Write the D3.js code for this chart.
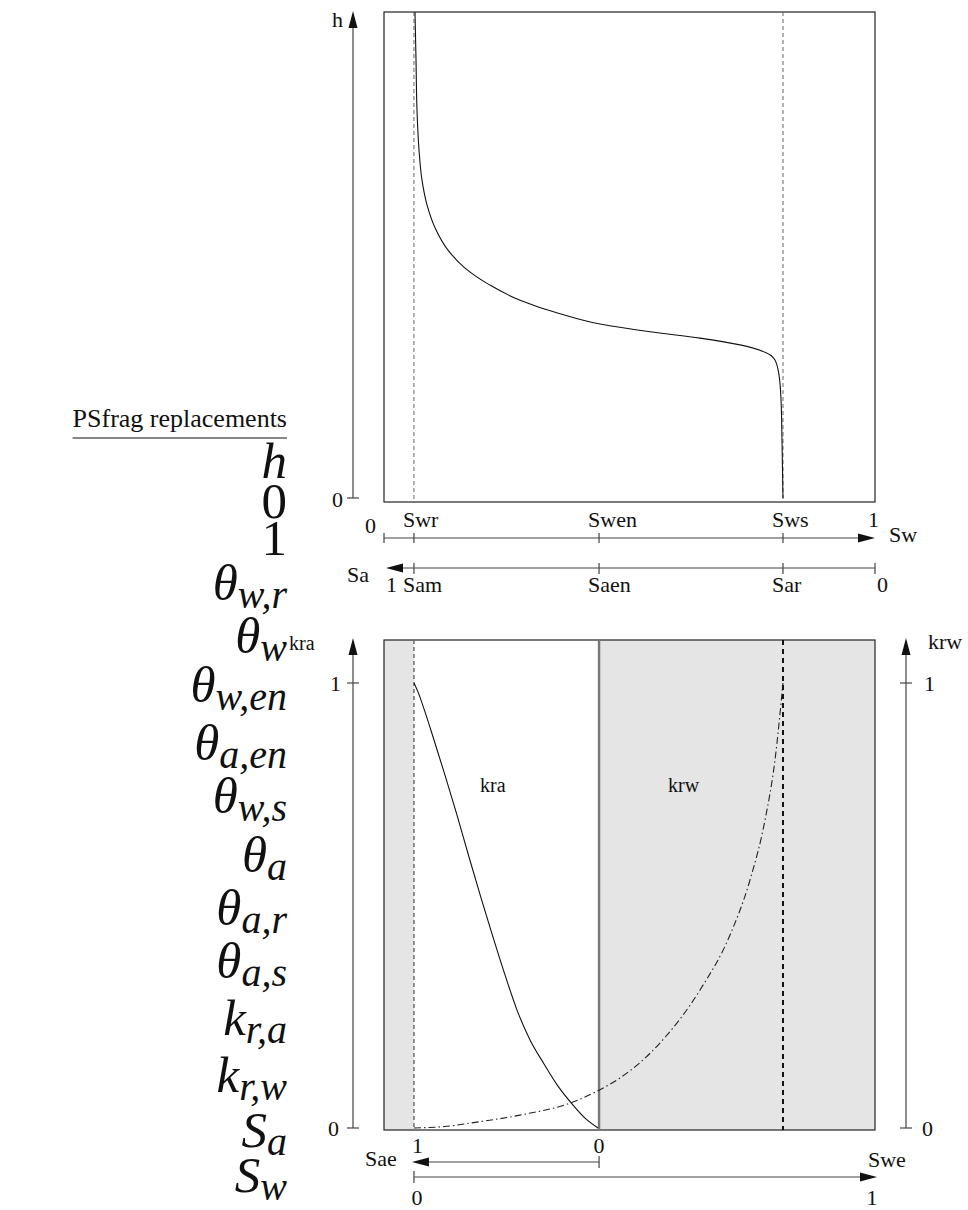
<!DOCTYPE html>
<html><head><meta charset="utf-8">
<script src="https://cdn.jsdelivr.net/npm/d3@7"></script>
<style>
body{margin:0;background:#fff}
svg{display:block}
</style>
</head><body>
<svg id="fig" width="968" height="1210"></svg>
<script>
// Characteristic water saturations (position along the Sw axis, 0..1)
const satLabels = ["Swr", "Swen", "Sws"];
const satValues = [0.061, 0.438, 0.8126];
// Matching air-saturation labels on the reversed Sa axis
const airLabels = ["Sam", "Saen", "Sar"];

// Retention curve h(Sw), h normalised to the panel height
const retSw = [0.0631,0.0652,0.0672,0.0713,0.0774,0.0876,0.1039,0.1303,0.1650,0.2159,0.2770,0.3585,0.4399,0.5418,0.6436,0.7251,0.7760,0.7963,0.8045,0.8086,0.8106,0.8126];
const retH  = [1.000,0.901,0.798,0.716,0.654,0.603,0.556,0.510,0.473,0.438,0.407,0.379,0.358,0.342,0.329,0.315,0.300,0.284,0.253,0.202,0.119,0.000];

// Relative permeability of air kra(Sw)
const kraSw = [0.0611,0.0692,0.0835,0.1018,0.1242,0.1487,0.1731,0.1976,0.2220,0.2464,0.2709,0.2974,0.3259,0.3544,0.3829,0.4094,0.4358];
const kraV  = [1.000,0.980,0.935,0.872,0.793,0.703,0.609,0.517,0.429,0.344,0.265,0.198,0.144,0.094,0.054,0.022,0.000];

// Relative permeability of water krw(Sw)
const krwSw = [0.0611,0.1344,0.1752,0.2770,0.3788,0.4379,0.4807,0.5621,0.6436,0.7047,0.7454,0.7760,0.7963,0.8126];
const krwV  = [0.000,0.0045,0.011,0.029,0.056,0.085,0.1124,0.1910,0.3101,0.4337,0.5573,0.6921,0.8270,1.000];

// Symbol list in the left column
const symBase = ["h","0","1","θ","θ","θ","θ","θ","θ","θ","θ","k","k","S","S"];
const symSub  = ["","","","w,r","w","w,en","a,en","w,s","a","a,r","a,s","r,a","r,w","a","w"];

const FONT = "'Liberation Serif', 'DejaVu Serif', serif";
const svg = d3.select("#fig");

const x = d3.scaleLinear().domain([0, 1]).range([384, 875]);
const yTop = d3.scaleLinear().domain([0, 1]).range([498, 12]);
const yBot = d3.scaleLinear().domain([0, 1]).range([1128, 683]);

const topBox = {y0: 12, y1: 502};
const botBox = {y0: 640, y1: 1130};

function arrowHead(g, tipX, tipY, dir) {
  // filled triangular arrow head, dir in {up,left,right}
  const L = 17, w = 4.5;
  let pts;
  if (dir === "up") pts = [[tipX, tipY], [tipX - w, tipY + L], [tipX + w, tipY + L]];
  else if (dir === "left") pts = [[tipX, tipY], [tipX + L, tipY - w], [tipX + L, tipY + w]];
  else pts = [[tipX, tipY], [tipX - L, tipY - w], [tipX - L, tipY + w]];
  g.append("path").attr("d", "M" + pts.map(p => p.join(",")).join("L") + "Z").attr("fill", "#111");
}
function hline(g, x1, x2, y, col, sw) {
  g.append("line").attr("x1", x1).attr("x2", x2).attr("y1", y).attr("y2", y)
    .attr("stroke", col || "#333").attr("stroke-width", sw || 1);
}
function vline(g, xx, y1, y2, col, sw, dash) {
  const l = g.append("line").attr("x1", xx).attr("x2", xx).attr("y1", y1).attr("y2", y2)
    .attr("stroke", col || "#333").attr("stroke-width", sw || 1);
  if (dash) l.attr("stroke-dasharray", dash);
  return l;
}
function label(g, tx, ty, s, size, anchor) {
  return g.append("text").attr("x", tx).attr("y", ty).attr("font-size", size || 22)
    .attr("font-family", FONT).attr("fill", "#111")
    .attr("text-anchor", anchor || "start").text(s);
}

// ---------- upper panel: retention curve ----------
const gTop = svg.append("g");
gTop.append("rect").attr("x", x(0)).attr("y", topBox.y0).attr("width", x(1) - x(0))
  .attr("height", topBox.y1 - topBox.y0).attr("fill", "none").attr("stroke", "#222").attr("stroke-width", 1.2);
[satValues[0], satValues[2]].forEach(v => vline(gTop, x(v), topBox.y0, topBox.y1, "#666", 1, "4,3"));

const retLine = d3.line().x((d, i) => x(retSw[i])).y((d, i) => yTop(retH[i])).curve(d3.curveMonotoneY);
gTop.append("path").datum(retSw).attr("d", retLine).attr("fill", "none").attr("stroke", "#111").attr("stroke-width", 1.1);

// h axis
vline(gTop, 353, yTop(0), 28, "#444", 1.2);
arrowHead(gTop, 353, 11, "up");
hline(gTop, 347, 359, yTop(0), "#444", 1.2);
label(gTop, 332, 27, "h", 22);
label(gTop, 332, 507, "0", 22);

// Sw axis
const ySw = 538;
hline(gTop, x(0), x(1) - 15, ySw, "#444", 1.2);
arrowHead(gTop, x(1), ySw, "right");
vline(gTop, x(0), ySw - 5, ySw + 5, "#444", 1.2);
satValues.forEach(v => vline(gTop, x(v), ySw - 5, ySw + 5, "#444", 1.2));
label(gTop, 365, 533, "0", 22);
satLabels.forEach((s, i) => label(gTop, x(satValues[i]) - 11, 527, s, 22));
label(gTop, x(1) - 7, 527, "1", 22);
label(gTop, 889, 542, "Sw", 22);

// Sa axis (reversed)
const ySa = 568;
hline(gTop, x(0) + 14, x(1), ySa, "#444", 1.2);
arrowHead(gTop, x(0) + 2, ySa, "left");
satValues.forEach(v => vline(gTop, x(v), ySa - 5, ySa + 6, "#444", 1.2));
vline(gTop, x(1), ySa - 5, ySa + 6, "#444", 1.2);
label(gTop, 347, 582, "Sa", 22);
label(gTop, 386, 592, "1", 22);
airLabels.forEach((s, i) => label(gTop, x(satValues[i]) - 11, 592, s, 22));
label(gTop, x(1) + 2, 592, "0", 22);

// ---------- lower panel: relative permeabilities ----------
const gBot = svg.append("g");
gBot.append("rect").attr("x", x(0)).attr("y", botBox.y0).attr("width", x(satValues[0]) - x(0))
  .attr("height", botBox.y1 - botBox.y0).attr("fill", "#e5e5e5");
gBot.append("rect").attr("x", x(satValues[1])).attr("y", botBox.y0).attr("width", x(1) - x(satValues[1]))
  .attr("height", botBox.y1 - botBox.y0).attr("fill", "#e5e5e5");
gBot.append("rect").attr("x", x(0)).attr("y", botBox.y0).attr("width", x(1) - x(0))
  .attr("height", botBox.y1 - botBox.y0).attr("fill", "none").attr("stroke", "#222").attr("stroke-width", 1.2);
vline(gBot, x(satValues[0]), botBox.y0, botBox.y1, "#666", 1.4, "4,3");
vline(gBot, x(satValues[1]), botBox.y0, botBox.y1, "#777", 2.4);
vline(gBot, x(satValues[2]), botBox.y0, botBox.y1, "#111", 2, "5,4");

const kraLine = d3.line().x((d, i) => x(kraSw[i])).y((d, i) => yBot(kraV[i])).curve(d3.curveMonotoneX);
gBot.append("path").datum(kraSw).attr("d", kraLine).attr("fill", "none").attr("stroke", "#111").attr("stroke-width", 1.1);
const krwLine = d3.line().x((d, i) => x(krwSw[i])).y((d, i) => yBot(krwV[i])).curve(d3.curveMonotoneX);
gBot.append("path").datum(krwSw).attr("d", krwLine).attr("fill", "none").attr("stroke", "#222")
  .attr("stroke-width", 1.1).attr("stroke-dasharray", "7,3,1.5,3");
label(gBot, 480, 792, "kra", 20);
label(gBot, 668, 792, "krw", 20);

// left kra axis
vline(gBot, 353, yBot(0), 655, "#444", 1.2);
arrowHead(gBot, 353, 638, "up");
hline(gBot, 347, 359, yBot(1), "#444", 1.2);
hline(gBot, 347, 359, yBot(0), "#444", 1.2);
label(gBot, 330, yBot(1) + 8, "1", 22);
label(gBot, 328, yBot(0) + 8, "0", 22);

// right krw axis
vline(gBot, 906, yBot(0), 655, "#444", 1.2);
arrowHead(gBot, 906, 638, "up");
hline(gBot, 900, 912, yBot(1), "#444", 1.2);
hline(gBot, 900, 912, yBot(0), "#444", 1.2);
label(gBot, 924, yBot(1) + 8, "1", 22);
label(gBot, 922, yBot(0) + 8, "0", 22);
label(gBot, 928, 649, "krw", 22);

// Sae axis (from Swr to Swen, reversed)
const ySae = 1162;
hline(gBot, x(satValues[0]) + 14, x(satValues[1]), ySae, "#444", 1.2);
arrowHead(gBot, x(satValues[0]) - 2, ySae, "left");
vline(gBot, x(satValues[1]), ySae - 6, ySae + 6, "#444", 1.2);
label(gBot, x(satValues[0]) - 2, 1153, "1", 22);
label(gBot, x(satValues[1]), 1153, "0", 22, "middle");
label(gBot, 365, 1166, "Sae", 22);

// Swe axis
const ySwe = 1177;
hline(gBot, x(satValues[0]), x(1) - 15, ySwe, "#444", 1.2);
arrowHead(gBot, x(1) + 2, ySwe, "right");
vline(gBot, x(satValues[0]), ySwe - 6, ySwe + 6, "#444", 1.2);
label(gBot, x(satValues[0]) + 3, 1205, "0", 22, "middle");
label(gBot, x(1) - 3, 1205, "1", 22, "middle");
label(gBot, 868, 1167, "Swe", 22);

// ---------- symbol column ----------
const gCol = svg.append("g");
const colRight = 287;
const psText = label(gCol, colRight, 427, "PSfrag replacements", 26, "end");
const ps = psText.node().getBBox();
hline(gCol, ps.x, colRight, 438, "#111", 1.2);

const symBaselines = [478, 518, 555, 600, 653, 702, 760, 813, 872, 925, 978, 1035, 1092, 1147, 1192];
symBase.forEach((b, i) => {
  const t = gCol.append("text").attr("x", colRight).attr("y", symBaselines[i])
    .attr("font-family", FONT).attr("fill", "#111")
    .attr("text-anchor", "end").attr("font-size", 51);
  const upright = (b === "0" || b === "1");
  t.append("tspan").attr("font-style", upright ? "normal" : "italic").text(b);
  if (symSub[i]) {
    t.append("tspan").attr("font-style", "italic").attr("font-size", 40).attr("dy", 8).text(symSub[i]);
  }
});
label(gCol, 289, 650, "kra", 20);
</script>
</body></html>
